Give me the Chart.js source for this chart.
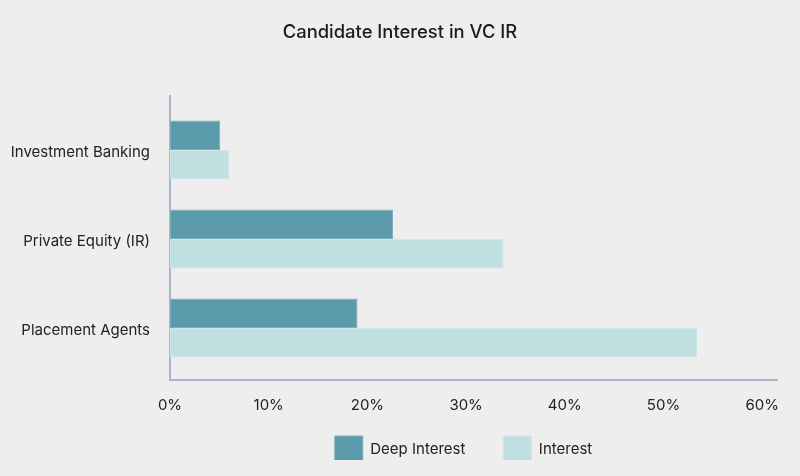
<!DOCTYPE html>
<html>
<head>
<meta charset="utf-8">
<script src="https://cdn.jsdelivr.net/npm/chart.js@4"></script>
<style>
  html, body { margin: 0; padding: 0; background: #eeeeee; }
  #wrap { width: 800px; height: 476px; }
</style>
</head>
<body>
<div id="wrap"><canvas id="c" width="800" height="476"></canvas></div>
<script>
const categories = ["Investment Banking", "Private Equity (IR)", "Placement Agents"];
const deepInterest = [5.1, 22.6, 19.0];
const interest = [6.0, 33.8, 53.4];
const seriesNames = ["Deep Interest", "Interest"];
const xTicks = [0, 10, 20, 30, 40, 50, 60];
const titleText = "Candidate Interest in VC IR";

const FONT = "Inter, 'Noto Sans', sans-serif";

const axisLines = {
  id: 'axisLines',
  beforeDatasetsDraw(chart) {
    const { ctx, chartArea } = chart;
    const x0 = chart.scales.x.getPixelForValue(0);
    const yb = chartArea.bottom + 7.5;
    ctx.save();
    ctx.strokeStyle = '#aab4ca';
    ctx.lineWidth = 2;
    ctx.beginPath();
    ctx.moveTo(x0, chartArea.top - 10.5);
    ctx.lineTo(x0, yb);
    ctx.lineTo(chartArea.right, yb);
    ctx.stroke();
    ctx.restore();
  }
};

const legendPlacement = {
  id: 'legendPlacement',
  afterLayout(chart) {
    const lg = chart.legend;
    if (!lg) return;
    const dy = -16, dx = -10.5;
    lg.top += dy; lg.bottom += dy;
    lg.left += dx; lg.right += dx;
  }
};

new Chart(document.getElementById('c'), {
  type: 'bar',
  data: {
    labels: categories,
    datasets: [
      {
        label: seriesNames[0],
        data: deepInterest,
        backgroundColor: '#5b9aaa',
        borderColor: '#7bafbb',
        borderWidth: 1,
        borderSkipped: false,
        categoryPercentage: 0.663,
        barPercentage: 1.0
      },
      {
        label: seriesNames[1],
        data: interest,
        backgroundColor: '#c0dfe1',
        borderColor: '#cde6e8',
        borderWidth: 1,
        borderSkipped: false,
        categoryPercentage: 0.663,
        barPercentage: 1.0
      }
    ]
  },
  options: {
    indexAxis: 'y',
    responsive: false,
    animation: false,
    devicePixelRatio: 1,
    layout: { padding: 0 },
    plugins: {
      title: {
        display: true,
        text: titleText,
        color: '#1b1b1b',
        font: { family: FONT, size: 18.4, weight: 500 },
        padding: { top: 21.5, bottom: 61.9 }
      },
      legend: {
        position: 'bottom',
        fullSize: false,
        maxHeight: 62,
        labels: {
          boxWidth: 28,
          boxHeight: 27,
          padding: 38,
          color: '#222222',
          font: { family: FONT, size: 15 }
        }
      },
      tooltip: { enabled: false }
    },
    scales: {
      x: {
        min: 0,
        max: 61.6,
        grid: { display: false, drawTicks: false },
        border: { display: false },
        afterBuildTicks(scale) {
          scale.ticks = xTicks.map(v => ({ value: v }));
        },
        afterFit(scale) {
          scale.height = 41.5;
          scale.paddingLeft = 0;
          scale.paddingRight = 0;
        },
        ticks: {
          padding: 23.5,
          autoSkip: false,
          maxRotation: 0,
          color: '#222222',
          font: { family: FONT, size: 15 },
          callback: v => v + '%'
        }
      },
      y: {
        grid: { display: false, drawTicks: false },
        border: { display: false },
        afterFit(scale) { scale.width = 170; },
        ticks: {
          padding: 20,
          labelOffset: 2.5,
          color: '#222222',
          font: { family: FONT, size: 15 }
        }
      },
      yRight: {
        type: 'category',
        axis: 'y',
        position: 'right',
        grid: { display: false, drawTicks: false },
        border: { display: false },
        ticks: { display: false },
        afterFit(scale) { scale.width = 22; }
      }
    }
  },
  plugins: [axisLines, legendPlacement]
});
</script>
</body>
</html>
